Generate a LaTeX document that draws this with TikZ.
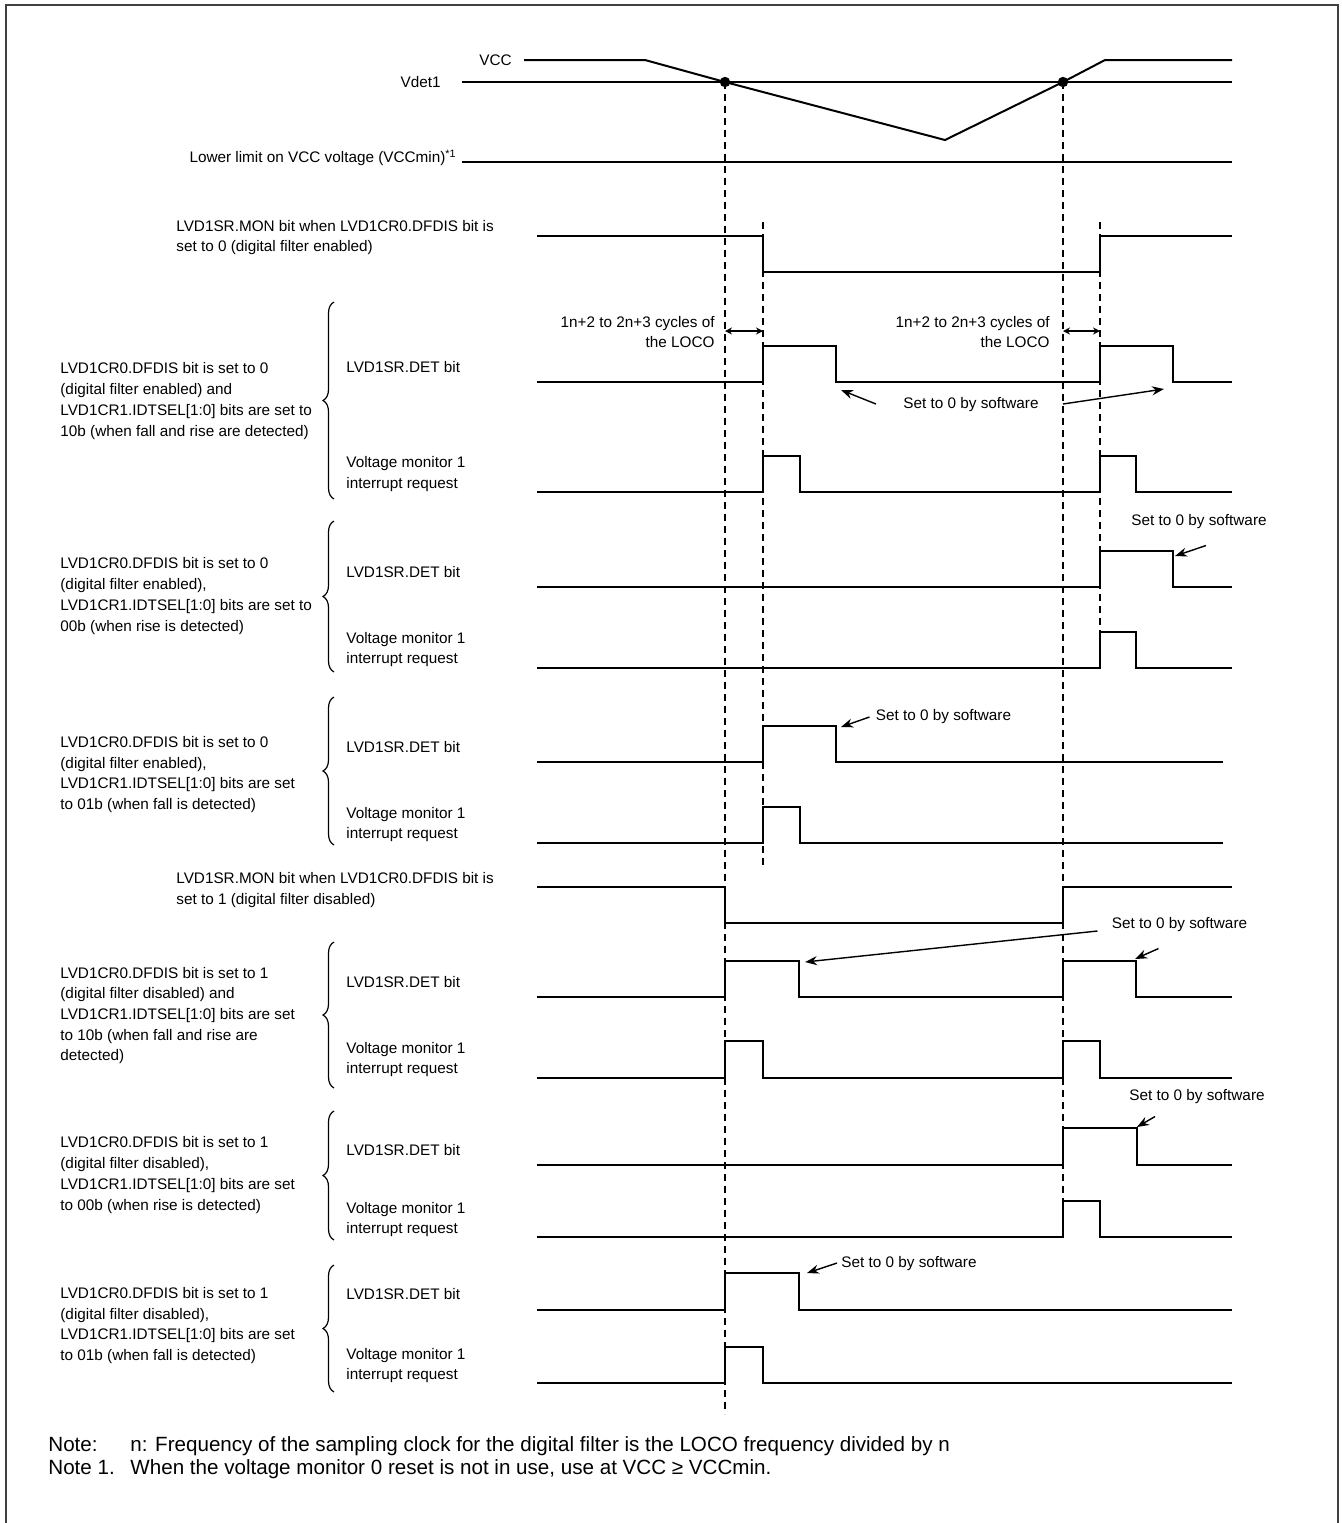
\documentclass[tikz,border=0pt]{standalone}
\usepackage{fontspec}
\setmainfont{Liberation Sans}
\usetikzlibrary{arrows.meta,decorations.pathreplacing}

\begin{document}
\begin{tikzpicture}[x=0.5pt,y=-0.5pt,
    every node/.style={inner sep=0pt,font=\fontsize{7.65}{10.35}\selectfont},
    wave/.style={line width=1pt},
    guide/.style={line width=0.7pt,dash pattern=on 3.5pt off 2.5pt},
    grp/.style={decorate,decoration={brace,amplitude=5.5pt},line width=0.6pt},
    lbl/.style={anchor=west,align=left},
    soft/.style={-{Stealth[length=6pt,width=4.5pt]},line width=0.7pt},
    loco/.style={{Stealth[length=3.5pt,width=3.5pt]}-{Stealth[length=3.5pt,width=3.5pt]},line width=0.7pt},
    notefont/.style={font=\fontsize{10.3}{12}\selectfont}]
  \useasboundingbox (0,0) rectangle (1341,1523);
  \draw[line width=1pt,black!75] (6,1523) |- (1338,5) -- (1338,1523);

  % supply voltage and levels
  \node[anchor=east] (vcc)  at (512,60)  {VCC};
  \node[anchor=east] (vdet) at (441,82)  {Vdet1};
  \node[anchor=east] (vmin) at (457,158) {Lower limit on VCC voltage (VCCmin)\textsuperscript{*1}};
  \coordinate (fall)  at (725,82);
  \coordinate (rise)  at (1063,82);
  \coordinate (ffall) at (763,222);
  \coordinate (frise) at (1100,222);
  \draw[wave] (524,60) -- (645,60) -- (fall) -- (945,140) -- (rise) -- (1105,60) -- (1232,60);
  \draw[wave] (462,82) -- (1232,82);
  \draw[wave] (462,162) -- (1232,162);
  \fill (fall) circle (2.6pt);
  \fill (rise) circle (2.6pt);

  % timing guides
  \draw[guide] (fall) -- (725,1414);
  \draw[guide] (rise) -- (1063,1201);
  \draw[guide] (ffall) -- (763,865);
  \draw[guide] (frise) -- (1100,632);

  % MON with digital filter
  \node[lbl] (mon0) at (176,237.5) {LVD1SR.MON bit when LVD1CR0.DFDIS bit is\\set to 0 (digital filter enabled)};
  \draw[wave] (537,236) -| (763,272) -| (1100,236) -- (1232,236);

  % group 1
  \node[lbl] (g1) at (60,401) {LVD1CR0.DFDIS bit is set to 0\\(digital filter enabled) and\\LVD1CR1.IDTSEL[1:0] bits are set to\\10b (when fall and rise are detected)};
  \draw[grp] (334,499) -- (334,302);
  \node[lbl] (det1) at (346,367) {LVD1SR.DET bit};
  \node[lbl] (int1) at (346,474) {Voltage monitor 1\\interrupt request};
  \draw[wave] (537,382) -| (763,346) -| (836,382) -| (1100,346) -| (1173,382) -- (1232,382);
  \draw[wave] (537,492) -| (763,456) -| (800,492) -| (1100,456) -| (1136,492) -- (1232,492);
  \node[align=right,anchor=east] (loco1) at (715,332) {1n+2 to 2n+3 cycles of\\the LOCO};
  \node[align=right,anchor=east] (loco2) at (1050,332) {1n+2 to 2n+3 cycles of\\the LOCO};
  \draw[loco] (725,331) -- (763,331);
  \draw[loco] (1063,331) -- (1100,331);
  \node (s1) at (971,405) {Set to 0 by software};
  \coordinate (t1a) at (841,390);
  \coordinate (t1b) at (1164,389);
  \draw[soft] ([shift={(-27,-1)}]s1.west) -- (t1a);
  \draw[soft] ([shift={(24,-1)}]s1.east) -- (t1b);

  % group 2
  \node[lbl] (g2) at (60,596) {LVD1CR0.DFDIS bit is set to 0\\(digital filter enabled),\\LVD1CR1.IDTSEL[1:0] bits are set to\\00b (when rise is detected)};
  \draw[grp] (334,672) -- (334,521);
  \node[lbl] (det2) at (346,572) {LVD1SR.DET bit};
  \node[lbl] (int2) at (346,649.5) {Voltage monitor 1\\interrupt request};
  \draw[wave] (537,587) -| (1100,551) -| (1173,587) -- (1232,587);
  \draw[wave] (537,668) -| (1100,632) -| (1136,668) -- (1232,668);
  \node (s2) at (1199,522) {Set to 0 by software};
  \coordinate (t2) at (1175,556);
  \draw[soft] ([shift={(7,16)}]s2.south) -- (t2);

  % group 3
  \node[lbl] (g3) at (60,774.5) {LVD1CR0.DFDIS bit is set to 0\\(digital filter enabled),\\LVD1CR1.IDTSEL[1:0] bits are set\\to 01b (when fall is detected)};
  \draw[grp] (334,845) -- (334,697);
  \node[lbl] (det3) at (346,747) {LVD1SR.DET bit};
  \node[lbl] (int3) at (346,824.5) {Voltage monitor 1\\interrupt request};
  \draw[wave] (537,762) -| (763,726) -| (836,762) -- (1223,762);
  \draw[wave] (537,843) -| (763,807) -| (800,843) -- (1223,843);
  \node (s3) at (943.5,717) {Set to 0 by software};
  \coordinate (t3) at (841,727);
  \draw[soft] ([shift={(-6,0)}]s3.west) -- (t3);

  % MON without digital filter
  \node[lbl] (mon1) at (176,890) {LVD1SR.MON bit when LVD1CR0.DFDIS bit is\\set to 1 (digital filter disabled)};
  \draw[wave] (537,887) -| (725,923) -| (1063,887) -- (1232,887);

  % group 4
  \node[lbl] (g4) at (60,1015.5) {LVD1CR0.DFDIS bit is set to 1\\(digital filter disabled) and\\LVD1CR1.IDTSEL[1:0] bits are set\\to 10b (when fall and rise are\\detected)};
  \draw[grp] (334,1088) -- (334,942);
  \node[lbl] (det4) at (346,982) {LVD1SR.DET bit};
  \node[lbl] (int4) at (346,1059.5) {Voltage monitor 1\\interrupt request};
  \draw[wave] (537,997) -| (725,961) -| (799,997) -| (1063,961) -| (1136,997) -- (1232,997);
  \draw[wave] (537,1078) -| (725,1041) -| (763,1078) -| (1063,1041) -| (1100,1078) -- (1232,1078);
  \node (s4) at (1179.5,925) {Set to 0 by software};
  \coordinate (t4a) at (805,962);
  \coordinate (t4b) at (1135,959);
  \draw[soft] ([shift={(-14,6)}]s4.west) -- (t4a);
  \draw[soft] ([shift={(-21,16)}]s4.south) -- (t4b);

  % group 5
  \node[lbl] (g5) at (60,1175) {LVD1CR0.DFDIS bit is set to 1\\(digital filter disabled),\\LVD1CR1.IDTSEL[1:0] bits are set\\to 00b (when rise is detected)};
  \draw[grp] (334,1240) -- (334,1111);
  \node[lbl] (det5) at (346,1150) {LVD1SR.DET bit};
  \node[lbl] (int5) at (346,1219.5) {Voltage monitor 1\\interrupt request};
  \draw[wave] (537,1165) -| (1063,1128) -| (1137,1165) -- (1232,1165);
  \draw[wave] (537,1237) -| (1063,1201) -| (1100,1237) -- (1232,1237);
  \node (s5) at (1197,1097) {Set to 0 by software};
  \coordinate (t5) at (1137,1127);
  \draw[soft] ([shift={(-42,12)}]s5.south) -- (t5);

  % group 6
  \node[lbl] (g6) at (60,1325.5) {LVD1CR0.DFDIS bit is set to 1\\(digital filter disabled),\\LVD1CR1.IDTSEL[1:0] bits are set\\to 01b (when fall is detected)};
  \draw[grp] (334,1392) -- (334,1265);
  \node[lbl] (det6) at (346,1294) {LVD1SR.DET bit};
  \node[lbl] (int6) at (346,1365.5) {Voltage monitor 1\\interrupt request};
  \draw[wave] (537,1310) -| (725,1273) -| (799,1310) -- (1232,1310);
  \draw[wave] (537,1383) -| (725,1347) -| (763,1383) -- (1232,1383);
  \node (s6) at (909,1264) {Set to 0 by software};
  \coordinate (t6) at (807,1273);
  \draw[soft] ([shift={(-4,-1)}]s6.west) -- (t6);

  % notes
  \node[anchor=base west,notefont] (n0)  at (48,1451)  {Note:};
  \node[anchor=base west,notefont] (n0t) at (130,1451) {n: Frequency of the sampling clock for the digital filter is the LOCO frequency divided by n};
  \node[anchor=base west,notefont] (n1)  at (48,1474)  {Note 1.};
  \node[anchor=base west,notefont] (n1t) at (130,1474) {When the voltage monitor 0 reset is not in use, use at VCC ≥ VCCmin.};
\end{tikzpicture}
\end{document}
